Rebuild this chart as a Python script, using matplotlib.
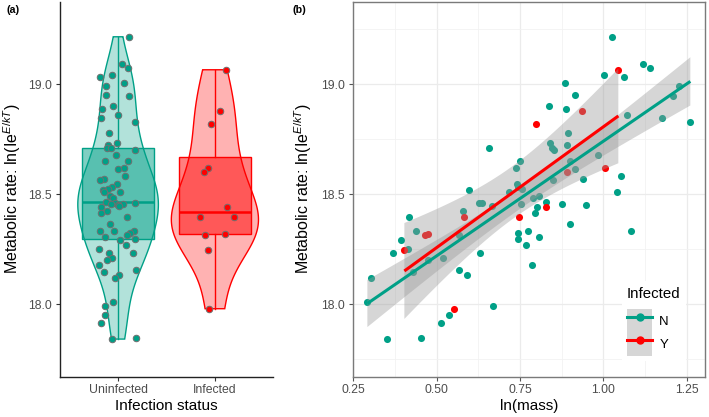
import numpy as np
import matplotlib
matplotlib.use('Agg')
import matplotlib.pyplot as plt
from matplotlib.colors import to_rgba
from matplotlib.patches import Patch, Polygon
from matplotlib.lines import Line2D
from matplotlib.ticker import MultipleLocator

plt.rcParams['font.family'] = 'Liberation Sans'
plt.rcParams['mathtext.fontset'] = 'custom'
plt.rcParams['mathtext.rm'] = 'Liberation Sans'
plt.rcParams['mathtext.it'] = 'Liberation Sans:italic'

TEAL = '#00A087'
RED = '#FF0000'

# Uninfected (N)
unin_rate = [19.216, 19.091, 19.074, 19.043, 19.033, 19.007, 18.993, 18.950, 18.948, 18.903,
             18.889, 18.859, 18.847, 18.827, 18.777, 18.732, 18.724, 18.712, 18.712, 18.700,
             18.680, 18.653, 18.650, 18.621, 18.616, 18.582, 18.568, 18.565, 18.545, 18.534,
             18.525, 18.521, 18.510, 18.509, 18.494, 18.484, 18.466, 18.462, 18.459, 18.457,
             18.457, 18.453, 18.447, 18.442, 18.424, 18.414, 18.395, 18.364, 18.333, 18.332,
             18.332, 18.323, 18.316, 18.306, 18.295, 18.292, 18.268, 18.253, 18.234, 18.232,
             18.212, 18.201, 18.177, 18.157, 18.148, 18.134, 18.121, 18.012, 17.992, 17.951,
             17.916, 17.845, 17.842]
unin_mass = [1.027, 1.120, 1.139, 1.001, 1.062, 0.885, 1.228, 0.915, 1.210, 0.838,
             0.887, 1.071, 1.177, 1.261, 0.893, 0.840, 0.890, 0.845, 0.657, 0.852,
             0.983, 0.899, 0.750, 0.737, 0.916, 1.053, 0.938, 0.850, 0.740, 0.743,
             0.755, 0.596, 1.041, 0.717, 0.807, 0.788, 0.827, 0.627, 0.635, 0.754,
             0.876, 0.949, 0.667, 0.800, 0.578, 0.796, 0.417, 0.900, 0.775, 0.439,
             1.083, 0.743, 0.566, 0.807, 0.744, 0.394, 0.767, 0.415, 0.631, 0.368,
             0.520, 0.473, 0.786, 0.568, 0.430, 0.592, 0.302, 0.292, 0.669, 0.536,
             0.513, 0.452, 0.350]
unin_jitter = [0.113, 0.041, 0.103, -0.062, -0.186, 0.062, -0.121, -0.121, 0.116, -0.048,
               -0.165, -0.003, -0.172, 0.175, -0.096, -0.013, -0.103, -0.110, -0.069, 0.175,
               -0.021, -0.131, 0.103, 0.062, -0.003, 0.072, -0.144, -0.189, -0.007, -0.062,
               -0.103, -0.158, -0.141, 0.021, -0.079, -0.048, -0.127, -0.034, 0.175, -0.069,
               0.052, 0.000, 0.007, -0.172, -0.110, -0.178, 0.096, -0.079, 0.162, -0.189,
               -0.044, 0.127, 0.088, -0.137, 0.175, 0.021, 0.082, -0.196, 0.158, -0.096,
               -0.062, -0.113, -0.196, 0.182, -0.147, 0.013, -0.034, -0.055, -0.137, -0.137,
               -0.172, 0.182, -0.059]

# Infected (Y)
inf_rate = [19.066, 18.880, 18.819, 18.621, 18.600, 18.443, 18.398, 18.398, 18.319, 18.315, 18.247, 17.980]
inf_mass = [1.045, 0.937, 0.798, 1.004, 0.890, 0.827, 0.747, 0.583, 0.474, 0.466, 0.403, 0.551]
inf_jitter = [0.110, 0.052, -0.038, -0.075, -0.116, 0.124, -0.152, 0.193, 0.106, -0.100, -0.075, -0.059]

categories = ['Uninfected', 'Infected']
legend_labels = ['N', 'Y']
ylabel = r'Metabolic rate: ln(I$\mathrm{e}^{E/kT}$)'

# t quantiles (0.975) for the lm confidence bands
t_crit = {73: 1.9939, 12: 2.2281}


def kde(vals, grid):
    vals = np.asarray(vals)
    n = len(vals)
    q75, q25 = np.percentile(vals, [75, 25])
    bw = 0.9 * min(vals.std(ddof=1), (q75 - q25) / 1.34) * n ** -0.2
    d = np.exp(-0.5 * ((grid[:, None] - vals[None, :]) / bw) ** 2).sum(1)
    return d / (n * bw * np.sqrt(2 * np.pi))


def lm_band(x, y, n_pts=80):
    x = np.asarray(x)
    y = np.asarray(y)
    n = len(x)
    b, a = np.polyfit(x, y, 1)
    resid = y - (a + b * x)
    s = np.sqrt((resid ** 2).sum() / (n - 2))
    xs = np.linspace(x.min(), x.max(), n_pts)
    se = s * np.sqrt(1 / n + (xs - x.mean()) ** 2 / ((x - x.mean()) ** 2).sum())
    fit = a + b * xs
    t = t_crit[n]
    return xs, fit, fit - t * se, fit + t * se


W, H = 709, 417
fig = plt.figure(figsize=(W / 100, H / 100), dpi=100)
ax1 = fig.add_axes([60 / W, 40.3 / H, 213 / W, 374.7 / H])
ax2 = fig.add_axes([352.7 / W, 40.3 / H, 352.3 / W, 374.7 / H])

ylim = (17.671, 19.374)

# ---- panel (a) ----
groups = [(unin_rate, unin_jitter, TEAL), (inf_rate, inf_jitter, RED)]
dens_all = []
for vals, _, _ in groups:
    g = np.linspace(min(vals), max(vals), 512)
    dens_all.append((g, kde(vals, g)))
dmax = max(d.max() for _, d in dens_all)

for i, ((vals, jit, col), (g, d)) in enumerate(zip(groups, dens_all)):
    pos = i + 1
    half = d / dmax * 0.45
    xs = np.concatenate([pos - half, (pos + half)[::-1]])
    ys = np.concatenate([g, g[::-1]])
    ax1.add_patch(Polygon(np.column_stack([xs, ys]), closed=True,
                          facecolor=to_rgba(col, 0.3), edgecolor=col, lw=1.0, zorder=1))
    ax1.boxplot([vals], positions=[pos], widths=0.75, patch_artist=True,
                showcaps=False, showfliers=False, manage_ticks=False,
                boxprops=dict(facecolor=to_rgba(col, 0.5), edgecolor=col, lw=1.0),
                whiskerprops=dict(color=col, lw=1.0),
                medianprops=dict(color=col, lw=1.8), zorder=2)
    ax1.scatter(pos + np.asarray(jit), vals, s=22, facecolor=col, edgecolor='#6f6f6f',
                linewidth=0.7, zorder=3)

ax1.set_xlim(0.4, 2.6)
ax1.set_ylim(*ylim)
ax1.set_xticks([1, 2])
ax1.set_xticklabels(categories)
ax1.set_yticks([18.0, 18.5, 19.0])
ax1.set_yticklabels(['18.0', '18.5', '19.0'])
for side in ['top', 'right']:
    ax1.spines[side].set_visible(False)
for side in ['left', 'bottom']:
    ax1.spines[side].set_color('#222222')
    ax1.spines[side].set_linewidth(1.0)
ax1.tick_params(length=2.6, width=0.8, color='#333333', labelsize=8.8,
                labelcolor='#4d4d4d', pad=3)

# ---- panel (b) ----
ax2.scatter(unin_mass, unin_rate, s=26, color=TEAL, lw=0, zorder=2)
ax2.scatter(inf_mass, inf_rate, s=26, color=RED, lw=0, zorder=2)
for mx, ry, col in [(unin_mass, unin_rate, TEAL), (inf_mass, inf_rate, RED)]:
    xs, fit, lo, hi = lm_band(mx, ry)
    ax2.fill_between(xs, lo, hi, facecolor='#999999', alpha=0.4, lw=0, zorder=3)
    ax2.plot(xs, fit, color=col, lw=2.2, zorder=4, solid_capstyle='butt')

ax2.set_xlim(0.248, 1.305)
ax2.set_ylim(*ylim)
ax2.set_xticks([0.25, 0.5, 0.75, 1.0, 1.25])
ax2.set_xticklabels(['0.25', '0.50', '0.75', '1.00', '1.25'])
ax2.set_yticks([18.0, 18.5, 19.0])
ax2.set_yticklabels(['18.0', '18.5', '19.0'])
ax2.xaxis.set_minor_locator(MultipleLocator(0.125))
ax2.yaxis.set_minor_locator(MultipleLocator(0.25))
ax2.grid(which='major', color='#ebebeb', lw=0.9, zorder=0)
ax2.grid(which='minor', color='#f2f2f2', lw=0.6, zorder=0)
ax2.set_axisbelow(True)
ax2.tick_params(which='minor', length=0)
ax2.tick_params(which='major', length=2.6, width=0.8, color='#555555', labelsize=8.8,
                labelcolor='#4d4d4d', pad=3)
for sp in ax2.spines.values():
    sp.set_color('#7a7a7a')
    sp.set_linewidth(1.0)

handles = [(Patch(facecolor='#999999', alpha=0.4, lw=0),
            Line2D([], [], color=TEAL, lw=2.2, marker='o', ms=5)),
           (Patch(facecolor='#999999', alpha=0.4, lw=0),
            Line2D([], [], color=RED, lw=2.2, marker='o', ms=5))]
leg = ax2.legend(handles, legend_labels, title='Infected', loc='upper left',
                 bbox_to_anchor=(0.745, 0.272), frameon=True, fontsize=9.5,
                 title_fontsize=10.8, handlelength=1.9, handleheight=2.35,
                 labelspacing=0, handletextpad=0.55, borderpad=0.4,
                 alignment='left', fancybox=False)
leg._legend_box.sep = 6
leg.get_frame().set_edgecolor('none')
leg.get_frame().set_facecolor('white')
leg.get_frame().set_alpha(1)

# ---- labels ----
fig.text(12.5 / W, 1 - 189 / H, ylabel, rotation=90, ha='center', va='center', fontsize=11.5)
fig.text(303.5 / W, 1 - 189 / H, ylabel, rotation=90, ha='center', va='center', fontsize=11.5)
fig.text(166 / W, 1 - 406 / H, 'Infection status', ha='center', va='center', fontsize=11)
fig.text(529 / W, 1 - 406 / H, 'ln(mass)', ha='center', va='center', fontsize=11)
fig.text(6 / W, 1 - 10.3 / H, '(a)', ha='left', va='center', fontsize=7.7, fontweight='bold')
fig.text(292.7 / W, 1 - 10.3 / H, '(b)', ha='left', va='center', fontsize=7.7, fontweight='bold')

fig.savefig('out.png', dpi=100)
